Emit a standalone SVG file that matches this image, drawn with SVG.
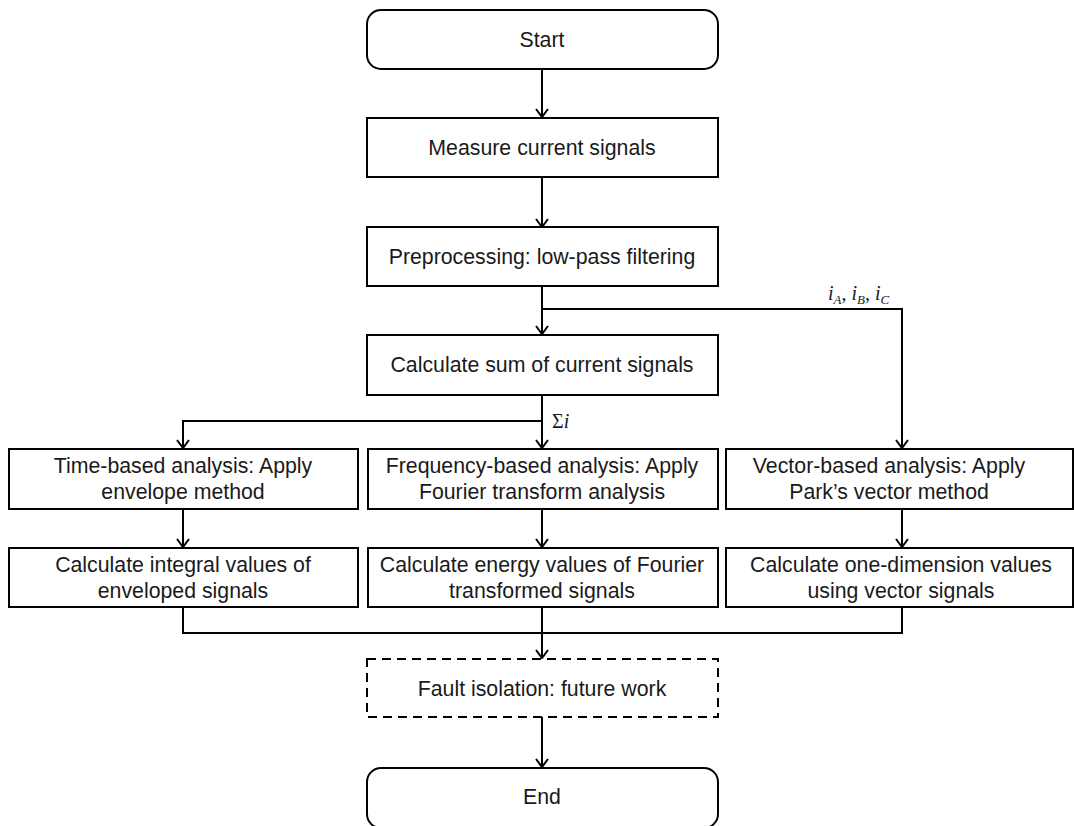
<svg xmlns="http://www.w3.org/2000/svg" width="1074" height="826" viewBox="0 0 1074 826">
<style>
.box{fill:#fff;stroke:#000;stroke-width:2}
.dash{stroke-dasharray:9,6}
.t{font-family:"Liberation Sans",Arial,sans-serif;font-size:21.3px;fill:#1a1a1a;text-anchor:middle;dominant-baseline:central}
.c{fill:none;stroke:#000;stroke-width:2}
.lbl{font-family:"Liberation Serif","Times New Roman",serif;font-size:20px;font-style:italic;fill:#1a1a2a}
</style>
<defs>
<marker id="ah" markerWidth="14" markerHeight="14" refX="12" refY="7" orient="auto" markerUnits="userSpaceOnUse" viewBox="0 0 14 14">
<path d="M4,1 L12,7 L4,13" fill="none" stroke="#000" stroke-width="2"/>
</marker>
</defs>
<rect width="1074" height="826" fill="#fff"/>
<g id="connectors">
<line class="c" x1="542" y1="69" x2="542" y2="117" marker-end="url(#ah)"/>
<line class="c" x1="542" y1="177" x2="542" y2="227" marker-end="url(#ah)"/>
<line class="c" x1="542" y1="286" x2="542" y2="334" marker-end="url(#ah)"/>
<polyline class="c" points="542,309 902,309 902,448" marker-end="url(#ah)"/>
<line class="c" x1="542" y1="395" x2="542" y2="448" marker-end="url(#ah)"/>
<polyline class="c" points="542,421 183,421 183,448" marker-end="url(#ah)"/>
<line class="c" x1="183" y1="509" x2="183" y2="547" marker-end="url(#ah)"/>
<line class="c" x1="542" y1="509" x2="542" y2="547" marker-end="url(#ah)"/>
<line class="c" x1="902" y1="509" x2="902" y2="547" marker-end="url(#ah)"/>
<polyline class="c" points="183,607 183,633 902,633 902,607"/>
<line class="c" x1="542" y1="607" x2="542" y2="658" marker-end="url(#ah)"/>
<line class="c" x1="542" y1="717" x2="542" y2="767" marker-end="url(#ah)"/>
<text class="lbl" x="828" y="300">i<tspan font-size="13" dy="4">A</tspan><tspan dy="-4" font-style="normal">, </tspan>i<tspan font-size="13" dy="4">B</tspan><tspan dy="-4" font-style="normal">, </tspan>i<tspan font-size="13" dy="4">C</tspan></text>
<text class="lbl" x="552" y="428"><tspan font-style="normal">Σ</tspan>i</text>
</g>
<g id="start"><rect class="box" x="367" y="10" width="351" height="59" rx="14"/><text class="t" x="542" y="40">Start</text></g>
<g id="measure"><rect class="box" x="367" y="118" width="351" height="59"/><text class="t" x="542" y="148">Measure current signals</text></g>
<g id="preprocess"><rect class="box" x="367" y="227" width="351" height="59"/><text class="t" x="542" y="257">Preprocessing: low-pass filtering</text></g>
<g id="sum"><rect class="box" x="367" y="335" width="351" height="60"/><text class="t" x="542" y="365">Calculate sum of current signals</text></g>
<g id="time"><rect class="box" x="9" y="449" width="349" height="60"/><text class="t" x="183" y="466">Time-based analysis: Apply</text><text class="t" x="183" y="492">envelope method</text></g>
<g id="freq"><rect class="box" x="368" y="449" width="350" height="60"/><text class="t" x="542" y="466">Frequency-based analysis: Apply</text><text class="t" x="542" y="492">Fourier transform analysis</text></g>
<g id="vector"><rect class="box" x="726" y="449" width="347" height="60"/><text class="t" x="889" y="466">Vector-based analysis: Apply</text><text class="t" x="889" y="492">Park’s vector method</text></g>
<g id="integral"><rect class="box" x="9" y="548" width="349" height="59"/><text class="t" x="183" y="565">Calculate integral values of</text><text class="t" x="183" y="591">enveloped signals</text></g>
<g id="energy"><rect class="box" x="368" y="548" width="350" height="59"/><text class="t" x="542" y="565">Calculate energy values of Fourier</text><text class="t" x="542" y="591">transformed signals</text></g>
<g id="onedim"><rect class="box" x="726" y="548" width="347" height="59"/><text class="t" x="901" y="565">Calculate one-dimension values</text><text class="t" x="901" y="591">using vector signals</text></g>
<g id="fault"><rect class="box dash" x="367" y="659" width="351" height="58"/><text class="t" x="542" y="689">Fault isolation: future work</text></g>
<g id="end"><rect class="box" x="367" y="768" width="351" height="60" rx="14"/><text class="t" x="542" y="797">End</text></g>
</svg>
